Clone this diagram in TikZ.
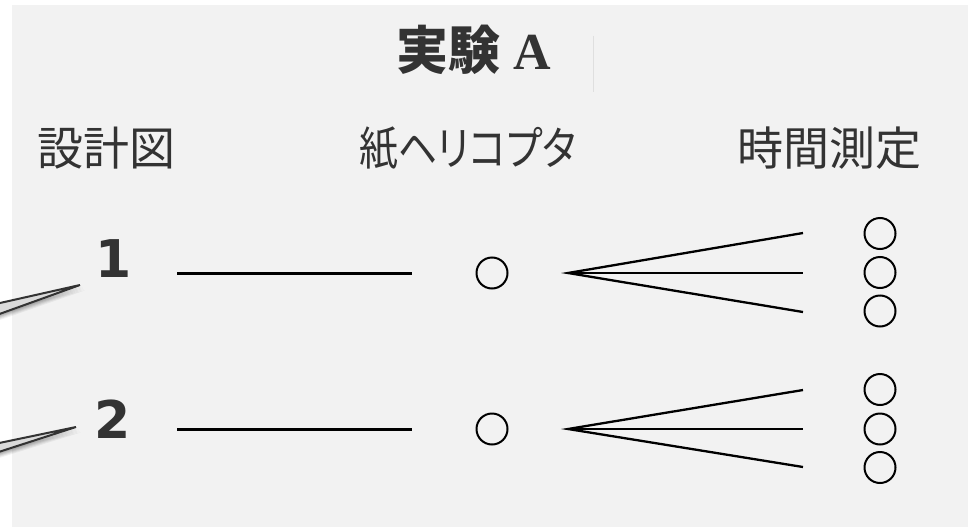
\documentclass[tikz,border=0pt]{standalone}
\usepackage{fontspec}
\usepackage{graphicx}
\newfontfamily\jp[RawFeature=+palt]{Noto Sans CJK JP}
\newfontfamily\serifA{Liberation Serif}
\newfontfamily\numf{DejaVu Sans}
\definecolor{panel}{HTML}{F2F2F2}
\definecolor{ink}{HTML}{333333}
\definecolor{wedgefill}{HTML}{DADADA}
\begin{document}
\begin{tikzpicture}[x=1pt,y=-1pt,
  hdr/.style={anchor=base west,inner sep=0pt,text=ink,font=\jp\fontsize{46}{50}\selectfont},
  num/.style={anchor=base,inner sep=0pt,text=ink,font=\numf\bfseries\fontsize{52}{56}\selectfont},
  ring/.style={circle,draw=black,line width=2pt,minimum size=31pt,inner sep=0pt},
  bar/.style={line width=3pt,draw=black},
  fan/.style={line width=2.3pt,draw=black},
  wedge/.style={fill=wedgefill,draw=ink,line width=2pt,line join=miter}]
\useasboundingbox (0,0) rectangle (968,527);
\clip (0,0) rectangle (968,527);
\fill[white] (0,0) rectangle (968,527);
\fill[panel] (12,5) rectangle (968,527);
% faint mark next to the title
\draw[gray!25,line width=0.8pt] (593,36) -- (593,92);
% title
\node[anchor=base west,inner sep=0pt,text=ink,font=\jp\bfseries\fontsize{52}{56}\selectfont] (t1) at (396,70) {実験};
\node[anchor=base west,inner sep=0pt,text=ink,font=\serifA\bfseries\fontsize{52}{56}\selectfont] (t2) at (513,70) {A};
% headers
\node[hdr] (h1) at (37,165) {設計図};
\node[hdr] (h2) at (359,165) {\resizebox{217pt}{\height}{紙ヘリコプタ}};
\node[hdr] (h3) at (737,165) {時間測定};
% pointer wedges with soft shadows
\foreach \dy/\ax/\ay/\ua/\la in {0/80/285/307.5/321, 0/76/427/447/458}{
  \foreach \k/\op in {6/0.05,5/0.06,4/0.07,3/0.08,2/0.08}{
    \fill[black,opacity=\op] (-20,\ua+\k) -- (\ax+\k*0.8,\ay+\k*0.9) -- (-20,\la+\k) -- cycle;
  }
}
\coordinate (p1a) at (80,285);
\coordinate (p1u) at (-20,307.5);
\coordinate (p1l) at (-20,321);
\coordinate (p2a) at (76,427);
\coordinate (p2u) at (-20,447);
\coordinate (p2l) at (-20,458);
\draw[wedge] (p1u) -- (p1a) -- (p1l);
\draw[wedge] (p2u) -- (p2a) -- (p2l);
% numbers
\node[num] (n1) at (113.5,277) {1};
\node[num] (n2) at (112.5,438) {2};
% row 1
\coordinate (b1s) at (177,273);
\coordinate (b1e) at (412,273);
\draw[bar] (b1s) -- (b1e);
\node[ring] (c1) at (492,273) {};
\coordinate (f1) at (568,273);
\coordinate (f1a) at (803,233);
\coordinate (f1b) at (803,273);
\coordinate (f1c) at (803,312);
\draw[fan] (f1a) -- (f1) -- (f1c);
\draw[fan] (f1) -- (f1b);
\node[ring] (r1a) at (880,233.5) {};
\node[ring] (r1b) at (880,272.5) {};
\node[ring] (r1c) at (880,311) {};
% row 2
\coordinate (b2s) at (177,429);
\coordinate (b2e) at (412,429);
\draw[bar] (b2s) -- (b2e);
\node[ring] (c2) at (492,429) {};
\coordinate (f2) at (568,429);
\coordinate (f2a) at (803,390);
\coordinate (f2b) at (803,429);
\coordinate (f2c) at (803,467);
\draw[fan] (f2a) -- (f2) -- (f2c);
\draw[fan] (f2) -- (f2b);
\node[ring] (r2a) at (880,389.5) {};
\node[ring] (r2b) at (880,429) {};
\node[ring] (r2c) at (880,467.5) {};
\end{tikzpicture}
\end{document}
